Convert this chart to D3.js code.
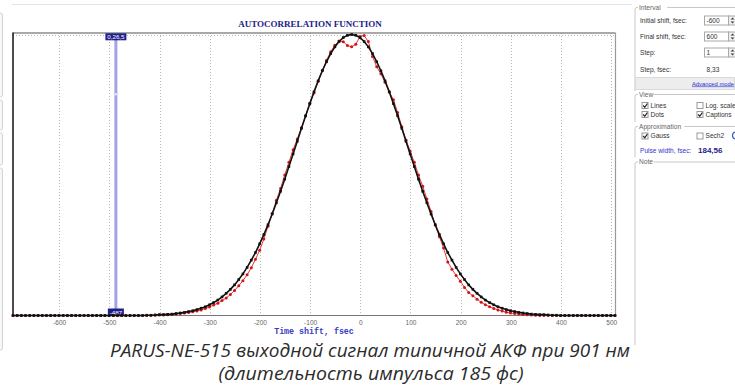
<!DOCTYPE html>
<html>
<head>
<meta charset="utf-8">
<script src="https://cdn.jsdelivr.net/npm/d3@7"></script>
<style>
  body { margin: 0; background: #fff; }
  svg { display: block; }
</style>
</head>
<body>
<div id="chart"></div>
<script>
// Data
const shiftStart = -692   // first point on the axis, fsec
const shiftStep = 8.33    // Step, fsec
const xTicks = [-600, -500, -400, -300, -200, -100, 0, 100, 200, 300, 400, 500]

// Gauss approximation (black)
const fitValues = [
  0,0,0,0,0,0,0,0, 0,0,0,0,0,0,0,0, 0,0,0,0,0,0,0,0, 0,0,0,0,0,0,0,0,
  0.001,0.001,0.002,0.003,0.003,0.004,0.005,0.007,0.009,0.011,
  0.014,0.017,0.021,0.026,0.031,0.038,0.046,0.055,0.066,0.079,
  0.093,0.109,0.128,0.148,0.171,0.197,0.224,0.255,0.288,0.323,
  0.361,0.401,0.442,0.485,0.530,0.575,0.620,0.666,0.711,0.754,
  0.796,0.835,0.871,0.903,0.932,0.956,0.975,0.989,0.997,
  1.000,
  0.997,0.989,0.975,0.956,0.932,0.903,0.871,0.835,0.796,
  0.754,0.711,0.666,0.620,0.575,0.530,0.485,0.442,0.401,0.361,
  0.323,0.288,0.255,0.224,0.197,0.171,0.148,0.128,0.109,0.093,
  0.079,0.066,0.055,0.046,0.038,0.031,0.026,0.021,0.017,0.014,
  0.011,0.009,0.007,0.005,0.004,0.003,0.003,0.002,0.001,0.001,
  0,0,0,0,0,0,0,0,0,0,0,0,0,0
]

// measured ACF (red)
const measuredValues = [
  0,0,0,0,0,0,0,0, 0,0,0,0,0,0,0,0, 0,0,0,0,0,0,0,0, 0,0,0,0,0,0,0,0,
  0,0,0.001,0.002,0.002,0.003,0.004,0.005,0.007,0.009,
  0.011,0.013,0.016,0.020,0.025,0.030,0.037,0.044,0.053,0.062,
  0.075,0.089,0.106,0.124,0.145,0.170,0.200,0.232,0.272,0.318,
  0.363,0.410,0.452,0.500,0.545,0.590,0.628,0.668,0.710,0.755,
  0.792,0.834,0.873,0.908,0.939,0.962,0.977,0.974,0.961,
  0.956,
  0.965,0.993,0.996,0.975,0.922,0.885,0.860,0.830,0.795,
  0.768,0.722,0.672,0.625,0.585,0.545,0.500,0.460,0.415,0.370,
  0.322,0.280,0.240,0.190,0.165,0.142,0.122,0.100,0.082,0.070,
  0.058,0.047,0.038,0.031,0.025,0.020,0.016,0.012,0.009,0.007,
  0.005,0.004,0.003,0.002,0.001,0,0,0,0,0,
  0,0,0,0,0,0,0,0,0,0,0,0,0,0
]

const cursorShift = -487
const cursorTopLabel = '0,26,5'
const pulseWidth = '184,56'

// Dimensions
const dimensions = {
  width: 735,
  height: 387,
  plotLeft: 13,
  plotRight: 615.5,
  plotTop: 33,
  plotBottom: 315.5,
}

const svg = d3.select('#chart')
  .append('svg')
  .attr('width', dimensions.width)
  .attr('height', dimensions.height)

const xScale = d3.scaleLinear()
  .domain([shiftStart, shiftStart + shiftStep * (fitValues.length - 1)])
  .range([dimensions.plotLeft, dimensions.plotLeft + 602])

const yScale = d3.scaleLinear()
  .domain([0, 1])
  .range([dimensions.plotBottom, 34.5])

const fitData = fitValues.map((v, i) => ({ t: shiftStart + i * shiftStep, v }))
const measuredData = measuredValues.map((v, i) => ({ t: shiftStart + i * shiftStep, v }))

// window frame leftovers
svg.append('line')
  .attr('x1', 12).attr('x2', 632).attr('y1', 4.5).attr('y2', 4.5)
  .attr('stroke', '#e4e4e4')

const leftBoxes = [[13, 97], [100, 130], [133, 165], [168, 350]]
svg.append('g')
  .selectAll('rect')
  .data(leftBoxes)
  .join('rect')
  .attr('x', -4).attr('y', d => d[0])
  .attr('width', 6.5).attr('height', d => d[1] - d[0])
  .attr('rx', 2)
  .attr('fill', '#f7f7f7')
  .attr('stroke', '#d4d4d4')

// Title
svg.append('text')
  .attr('x', 310).attr('y', 27)
  .attr('text-anchor', 'middle')
  .attr('font-family', 'Liberation Serif, serif')
  .attr('font-weight', 'bold')
  .attr('font-size', 9)
  .attr('fill', '#22228a')
  .text('AUTOCORRELATION FUNCTION')

// Grid
const grid = svg.append('g')
grid.selectAll('line')
  .data(xTicks)
  .join('line')
  .attr('x1', d => Math.round(xScale(d)) + 0.5)
  .attr('x2', d => Math.round(xScale(d)) + 0.5)
  .attr('y1', dimensions.plotTop)
  .attr('y2', dimensions.plotBottom)
  .attr('stroke', '#b8b8b8')
  .attr('stroke-dasharray', '1,2')

grid.append('line')
  .attr('x1', dimensions.plotLeft).attr('x2', dimensions.plotRight)
  .attr('y1', 35.5).attr('y2', 35.5)
  .attr('stroke', '#b8b8b8')
  .attr('stroke-dasharray', '1,2')

// frame
svg.append('line')
  .attr('x1', dimensions.plotLeft).attr('x2', dimensions.plotRight)
  .attr('y1', 33).attr('y2', 33)
  .attr('stroke', '#8c8c8c').attr('stroke-width', 1.5)
svg.append('line')
  .attr('x1', dimensions.plotRight).attr('x2', dimensions.plotRight)
  .attr('y1', 33).attr('y2', dimensions.plotBottom)
  .attr('stroke', '#9a9a9a').attr('stroke-width', 1.2)
svg.append('line')
  .attr('x1', dimensions.plotLeft).attr('x2', dimensions.plotRight)
  .attr('y1', dimensions.plotBottom).attr('y2', dimensions.plotBottom)
  .attr('stroke', '#777')
svg.append('line')
  .attr('x1', dimensions.plotLeft).attr('x2', dimensions.plotLeft)
  .attr('y1', 32.5).attr('y2', dimensions.plotBottom + 0.5)
  .attr('stroke', '#111').attr('stroke-width', 1.5)

// x axis labels (plain hyphen like the original program)
const xAxis = d3.axisBottom(xScale)
  .tickValues(xTicks)
  .tickFormat(d => String(d))
  .tickSize(0)
  .tickPadding(5)

svg.append('g')
  .attr('transform', `translate(0, ${dimensions.plotBottom})`)
  .call(xAxis)
  .call(g => g.select('.domain').remove())
  .call(g => g.selectAll('text')
    .attr('font-family', 'Liberation Sans, Arial, sans-serif')
    .attr('font-size', 6.5)
    .attr('fill', '#666'))

svg.append('text')
  .attr('x', 314).attr('y', 334)
  .attr('text-anchor', 'middle')
  .attr('font-family', 'Liberation Mono, monospace')
  .attr('font-weight', 'bold')
  .attr('font-size', 8.3)
  .attr('fill', '#3a3ac8')
  .text('Time shift, fsec')

// cursor
const cx = xScale(cursorShift)
svg.append('line')
  .attr('x1', cx).attr('x2', cx)
  .attr('y1', 39).attr('y2', 309)
  .attr('stroke', '#a4a4e2').attr('stroke-width', 3)
svg.append('line')
  .attr('x1', cx).attr('x2', cx)
  .attr('y1', 93).attr('y2', 95.5)
  .attr('stroke', '#dcdcf4').attr('stroke-width', 3)

svg.append('rect')
  .attr('x', cx - 10.5).attr('y', 33.3).attr('width', 21).attr('height', 7)
  .attr('fill', '#20208c')
svg.append('text')
  .attr('x', cx).attr('y', 39.2)
  .attr('text-anchor', 'middle')
  .attr('font-family', 'Liberation Sans, Arial, sans-serif')
  .attr('font-size', 6.2)
  .attr('fill', '#fff')
  .text(cursorTopLabel)

svg.append('rect')
  .attr('x', cx - 8).attr('y', 308.5).attr('width', 16).attr('height', 7.5)
  .attr('fill', '#20208c')
svg.append('text')
  .attr('x', cx).attr('y', 314.5)
  .attr('text-anchor', 'middle')
  .attr('font-family', 'Liberation Sans, Arial, sans-serif')
  .attr('font-size', 6.2)
  .attr('fill', '#fff')
  .text(String(cursorShift))

// series
const line = d3.line()
  .x(d => xScale(d.t))
  .y(d => yScale(d.v))

svg.append('path')
  .datum(measuredData)
  .attr('d', line)
  .attr('fill', 'none')
  .attr('stroke', '#e23a3a')
  .attr('stroke-width', 1)

svg.append('g')
  .selectAll('circle')
  .data(measuredData)
  .join('circle')
  .attr('cx', d => xScale(d.t))
  .attr('cy', d => yScale(d.v))
  .attr('r', 1.5)
  .attr('fill', '#d41414')

svg.append('path')
  .datum(fitData)
  .attr('d', line)
  .attr('fill', 'none')
  .attr('stroke', '#111')
  .attr('stroke-width', 1.6)

svg.append('g')
  .selectAll('rect')
  .data(fitData)
  .join('rect')
  .attr('x', d => xScale(d.t) - 1.3)
  .attr('y', d => yScale(d.v) - 1.3)
  .attr('width', 2.6)
  .attr('height', 2.6)
  .attr('fill', '#111')

// caption
const caption = svg.append('g')
  .attr('font-family', 'Open Sans, Noto Sans, sans-serif')
  .attr('font-style', 'italic')
  .attr('font-size', 18)
  .attr('fill', '#2b2b2b')
  .attr('text-anchor', 'middle')

caption.append('text')
  .attr('x', 370).attr('y', 357)
  .attr('textLength', 520)
  .attr('lengthAdjust', 'spacingAndGlyphs')
  .text('PARUS-NE-515 выходной сигнал типичной АКФ при 901 нм')

caption.append('text')
  .attr('x', 371).attr('y', 380)
  .attr('textLength', 305)
  .attr('lengthAdjust', 'spacingAndGlyphs')
  .text('(длительность импульса 185 фс)')

// right panel
const panel = svg.append('g')
  .attr('font-family', 'Liberation Sans, Arial, sans-serif')
  .attr('font-size', 6.6)
  .attr('fill', '#333')

const groups = [
  { name: 'Interval', y1: 7.5, y2: 91 },
  { name: 'View', y1: 94.5, y2: 122 },
  { name: 'Approximation', y1: 126.5, y2: 157.5 },
  { name: 'Note', y1: 162, y2: 345 },
]

panel.selectAll('path.box')
  .data(groups)
  .join('path')
  .attr('class', 'box')
  .attr('d', d => `M740,${d.y1} H637 Q635,${d.y1} 635,${d.y1 + 2} V${d.y2}`)
  .attr('fill', 'none')
  .attr('stroke', '#c8c8c8')

panel.selectAll('rect.lbl')
  .data(groups)
  .join('rect')
  .attr('class', 'lbl')
  .attr('x', 638).attr('y', d => d.y1 - 3)
  .attr('width', d => d.name.length * 3.4 + 2).attr('height', 6)
  .attr('fill', '#fff')

panel.selectAll('text.gname')
  .data(groups)
  .join('text')
  .attr('class', 'gname')
  .attr('x', 639).attr('y', d => d.y1 + 2.2)
  .attr('fill', '#666')
  .text(d => d.name)

const fields = [
  { label: 'Initial shift, fsec:', y: 20.5, value: '-600', box: true },
  { label: 'Final shift, fsec:', y: 36.5, value: '600', box: true },
  { label: 'Step:', y: 52.5, value: '1', box: true },
  { label: 'Step, fsec:', y: 69.5, value: '8,33', box: false },
]

fields.forEach(f => {
  panel.append('text').attr('x', 640).attr('y', f.y + 2.3).text(f.label)
  if (f.box) {
    panel.append('rect')
      .attr('x', 704.5).attr('y', f.y - 4.5).attr('width', 24).attr('height', 9)
      .attr('fill', '#fff').attr('stroke', '#a8a8a8')
    panel.append('rect')
      .attr('x', 728.5).attr('y', f.y - 4.5).attr('width', 8).attr('height', 9)
      .attr('fill', '#f0f0f0').attr('stroke', '#a8a8a8')
    panel.append('path')
      .attr('d', `M730.5,${f.y - 1} l2,-2 l2,2 Z M730.5,${f.y + 1} l2,2 l2,-2 Z`)
      .attr('fill', '#444')
  }
  panel.append('text').attr('x', 706.5).attr('y', f.y + 2.3).text(f.value)
})

panel.append('rect')
  .attr('x', 635.5).attr('y', 77.5).attr('width', 99).attr('height', 12)
  .attr('fill', '#ededed').attr('stroke', '#dadada')
panel.append('text')
  .attr('x', 692).attr('y', 85.5)
  .attr('fill', '#2a2ad8')
  .attr('font-size', 5.8)
  .attr('text-decoration', 'underline')
  .text('Advanced mode')

const checks = [
  { label: 'Lines', x: 642, y: 105.5, on: true },
  { label: 'Dots', x: 642, y: 114.5, on: true },
  { label: 'Log. scale', x: 697, y: 105.5, on: false },
  { label: 'Captions', x: 697, y: 114.5, on: true },
  { label: 'Gauss', x: 642, y: 136, on: true },
  { label: 'Sech2', x: 697, y: 136, on: false },
]

checks.forEach(c => {
  panel.append('rect')
    .attr('x', c.x).attr('y', c.y - 3).attr('width', 6).attr('height', 6)
    .attr('fill', '#fff').attr('stroke', '#999')
  if (c.on) {
    panel.append('path')
      .attr('d', `M${c.x + 1.2},${c.y} l1.6,1.8 l2.6,-3.8`)
      .attr('fill', 'none').attr('stroke', '#222').attr('stroke-width', 1.2)
  }
  panel.append('text').attr('x', c.x + 8.5).attr('y', c.y + 2.3).text(c.label)
})

panel.append('circle')
  .attr('cx', 736).attr('cy', 135.5).attr('r', 3.5)
  .attr('fill', '#fff').attr('stroke', '#3b5fd0').attr('stroke-width', 1.2)

panel.append('text')
  .attr('x', 640).attr('y', 152.5)
  .attr('fill', '#3434d0')
  .text('Pulse width, fsec:')
panel.append('text')
  .attr('x', 698).attr('y', 152.5)
  .attr('fill', '#1c1c88')
  .attr('font-weight', 'bold')
  .attr('font-size', 8)
  .text(pulseWidth)
</script>
</body>
</html>
